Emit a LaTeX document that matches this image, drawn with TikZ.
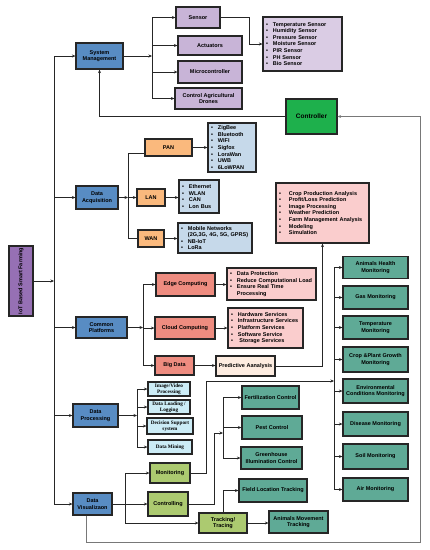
\documentclass[tikz,border=0pt]{standalone}
\usepackage{fontspec}
\setmainfont{Liberation Sans}
\newfontfamily\tnrfont{Liberation Serif}
\usetikzlibrary{arrows.meta, positioning, calc}
\definecolor{mgmtblue}{RGB}{88,140,195}
\definecolor{rootpurple}{RGB}{150,112,180}
\definecolor{devlilac}{RGB}{200,180,215}
\definecolor{senslilac}{RGB}{218,204,228}
\definecolor{ctrlgreen}{RGB}{30,176,76}
\definecolor{netorange}{RGB}{250,185,125}
\definecolor{netblue}{RGB}{198,217,234}
\definecolor{anapink}{RGB}{250,205,205}
\definecolor{cloudsalmon}{RGB}{238,140,128}
\definecolor{predpeach}{RGB}{253,236,224}
\definecolor{proccyan}{RGB}{204,236,246}
\definecolor{monteal}{RGB}{95,170,150}
\definecolor{vislime}{RGB}{172,202,112}
\definecolor{feedgray}{RGB}{120,120,120}
\newcommand{\bul}{\textbullet\hspace{5pt}}
\newcommand{\nobul}{\phantom{\textbullet}\hspace{5pt}}
\tikzset{
    box/.style={
        rectangle, draw=black!85, line width=1.2pt, inner sep=1pt,
        font=\fontsize{5.5}{6.6}\selectfont\bfseries, align=center
    },
    bluebox/.style={box, fill=mgmtblue},
    rootbox/.style={box, fill=rootpurple},
    lilacbox/.style={box, fill=devlilac},
    ctrlbox/.style={box, fill=ctrlgreen, font=\fontsize{6.5}{7.5}\selectfont\bfseries},
    orangebox/.style={box, fill=netorange},
    salmonbox/.style={box, fill=cloudsalmon},
    peachbox/.style={box, fill=predpeach},
    cyanbox/.style={box, fill=proccyan, font=\fontsize{5.2}{6.2}\selectfont\bfseries\tnrfont},
    tealbox/.style={box, fill=monteal},
    limebox/.style={box, fill=vislime},
    listbox/.style={box, align=left, inner xsep=3pt},
    line/.style={line width=0.8pt, black!85},
    arrow/.style={line, -{Stealth[length=3.5pt, width=3pt]}},
    grayarrow/.style={line width=0.6pt, feedgray, -{Stealth[length=3.5pt, width=3pt]}},
}
\begin{document}
\begin{tikzpicture}[x=1pt, y=-1pt]
    \useasboundingbox (0,0) rectangle (430,550);

    % root and main branches
    \node[rootbox, minimum width=24pt, minimum height=70pt] (iot) at (21,281) {\rotatebox{90}{IoT Based Smart Farming}};
    \node[bluebox, minimum width=47pt, minimum height=26pt] (sysman) at (99.5,56) {System\\Management};
    \node[bluebox, minimum width=42pt, minimum height=23pt] (dacq) at (97,197.5) {Data\\Acquisition};
    \node[bluebox, minimum width=51pt, minimum height=21pt] (cplat) at (101.5,327.5) {Common\\Platforms};
    \node[bluebox, minimum width=45pt, minimum height=23pt] (dproc) at (95.5,415.5) {Data\\Processing};
    \node[bluebox, minimum width=39pt, minimum height=22pt] (dviz) at (92.5,504) {Data\\Visualizaon};

    % system management
    \node[lilacbox, minimum width=44pt, minimum height=21pt] (sensor) at (198,17.5) {Sensor};
    \node[lilacbox, minimum width=64pt, minimum height=19pt] (actu) at (210,45.5) {Actuators};
    \node[lilacbox, minimum width=64pt, minimum height=22pt] (micro) at (210,72) {Microcontroller};
    \node[lilacbox, minimum width=67pt, minimum height=21pt] (drones) at (208.5,98.5) {Control Agricultural\\Drones};
    \node[listbox, fill=senslilac, text width=73pt, minimum height=54pt] (slist) at (302.5,44) {\bul Temperature Sensor\\\bul Humidity Sensor\\\bul Pressure Sensor\\\bul Moisture Sensor\\\bul PIR Sensor\\\bul PH Sensor\\\bul Bio Sensor};
    \node[ctrlbox, minimum width=51pt, minimum height=35pt] (ctrl) at (311.5,116.5) {Controller};

    % data acquisition
    \node[orangebox, minimum width=47pt, minimum height=17pt] (pan) at (168.5,147.5) {PAN};
    \node[orangebox, minimum width=28pt, minimum height=17pt] (lan) at (151,197.5) {LAN};
    \node[orangebox, minimum width=26pt, minimum height=17pt] (wan) at (151,238.5) {WAN};
    \node[listbox, fill=netblue, text width=42pt, minimum height=49pt] (panlist) at (232,147.5) {\bul ZigBee\\\bul Bluetooth\\\bul WIFI\\\bul Sigfox\\\bul LoraWan\\\bul UWB\\\bul 6LoWPAN};
    \node[listbox, fill=netblue, text width=34pt, minimum height=33pt] (lanlist) at (199,196.5) {\bul Ethernet\\\bul WLAN\\\bul CAN\\\bul Lon Bus};
    \node[listbox, fill=netblue, text width=68pt, minimum height=30pt] (wanlist) at (215,238) {\bul Mobile Networks\\\nobul (2G,3G, 4G, 5G, GPRS)\\\bul NB-IoT\\\bul LoRa};

    % common platforms
    \node[salmonbox, minimum width=59pt, minimum height=23pt] (edge) at (185.5,284.5) {Edge Computing};
    \node[salmonbox, minimum width=60pt, minimum height=22pt] (cloud) at (185,328) {Cloud Computing};
    \node[salmonbox, minimum width=39pt, minimum height=19pt] (bigdata) at (174.5,365.5) {Big Data};
    \node[listbox, fill=anapink, text width=83pt, minimum height=32pt] (edgelist) at (271.5,284) {\bul Data Protection\\\bul Reduce Computational Load\\\bul Ensure Real Time\\\nobul Processing};
    \node[listbox, fill=anapink, text width=69pt, minimum height=40pt] (cloudlist) at (265.5,328) {\bul Hardware Services\\\bul Infrastructure Services\\\bul Platform Services\\\bul Software Service\\\bul\hspace{1.5pt}Storage Services};
    \node[peachbox, minimum width=59pt, minimum height=20pt] (pred) at (245.5,366) {Predictive Aanalysis};
    \node[listbox, fill=anapink, text width=87pt, minimum height=60pt] (analysis) at (322.5,213) {\bul\hspace{3pt}Crop Production Analysis\\\bul\hspace{3pt}Profit/Loss Prediction\\\bul\hspace{3pt}Image Processing\\\bul\hspace{3pt}Weather Prediction\\\bul\hspace{3pt}Farm Management Analysis\\\bul\hspace{3pt}Modeling\\\bul\hspace{3pt}Simulation};

    % monitoring column
    \node[tealbox, minimum width=65pt, minimum height=22pt] (animh) at (375.5,267.5) {Animals Health\\Monitoring};
    \node[tealbox, minimum width=65pt, minimum height=23pt] (gas) at (375.5,297.5) {Gas Monitoring};
    \node[tealbox, minimum width=65pt, minimum height=23pt] (temp) at (375.5,327.5) {Temperature\\Monitoring};
    \node[tealbox, minimum width=65pt, minimum height=25pt] (crop) at (375.5,359.5) {Crop \&Plant Growth\\Monitoring};
    \node[tealbox, minimum width=65pt, minimum height=24pt] (env) at (375.5,391) {Environmental\\Conditions Monitoring};
    \node[tealbox, minimum width=65pt, minimum height=24pt] (disease) at (375.5,424) {Disease Monitoring};
    \node[tealbox, minimum width=65pt, minimum height=25pt] (soil) at (375.5,456.5) {Soil Monitoring};
    \node[tealbox, minimum width=65pt, minimum height=23pt] (air) at (375.5,489.5) {Air Monitoring};

    % data processing
    \node[cyanbox, minimum width=42pt, minimum height=14pt] (imgv) at (169,389) {Image/Video\\Processing};
    \node[cyanbox, minimum width=42pt, minimum height=14pt] (dload) at (169,407) {Data Loading /\\Logging};
    \node[cyanbox, minimum width=46pt, minimum height=16pt] (dsupp) at (170,426) {Decision Support\\system};
    \node[cyanbox, minimum width=44pt, minimum height=14pt] (dmin) at (170,447) {Data Mining};

    % data visualization
    \node[limebox, minimum width=40pt, minimum height=20pt] (mon) at (170,473) {Monitoring};
    \node[limebox, minimum width=40pt, minimum height=24pt] (ctrlg) at (168,504) {Controlling};
    \node[limebox, minimum width=48pt, minimum height=20pt] (track) at (223,523) {Tracking/\\Tracing};
    \node[tealbox, minimum width=57pt, minimum height=23pt] (fert) at (270.5,397.5) {Fertilization Control};
    \node[tealbox, minimum width=60pt, minimum height=23pt] (pest) at (272,427.5) {Pest Control};
    \node[tealbox, minimum width=61pt, minimum height=22pt] (green) at (271.5,458) {Greenhouse\\Illumination Control};
    \node[tealbox, minimum width=68pt, minimum height=23pt] (field) at (273,490.5) {Field Location Tracking};
    \node[tealbox, minimum width=59pt, minimum height=22pt] (amove) at (298.5,522) {Animals Movement\\Tracking};

    % bus coordinates
    \coordinate (trunk) at (54,0);
    \coordinate (sbus) at (152,0);
    \coordinate (abus) at (128,0);
    \coordinate (cbus) at (143,0);
    \coordinate (mbus) at (334,0);
    \coordinate (pbus) at (137,0);
    \coordinate (vbus) at (125,0);
    \coordinate (kbus) at (223,0);
    \coordinate (minlet) at (334,381);
    \coordinate (mturn) at (206,381);
    \coordinate (kin) at (223,433);
    \coordinate (kturn) at (214,433);
    \coordinate (feedc) at (420,542);

    % main trunk
    \draw[line] (trunk |- sysman.west) -- (trunk |- dviz.west);
    \draw[arrow] (iot.east) -- (iot.east -| trunk);
    \foreach \n in {sysman, dacq, cplat, dproc, dviz}
        \draw[arrow] (trunk |- \n.west) -- (\n.west);

    % system management links
    \draw[arrow] (sysman.east) -- (sysman.east -| sbus);
    \draw[line] (sbus |- sensor.west) -- (sbus |- drones.west);
    \foreach \n in {sensor, actu, micro, drones}
        \draw[arrow] (sbus |- \n.west) -- (\n.west);
    \draw[arrow] (sensor.east) -- ++(29,0) |- (slist.west);
    \draw[arrow] (ctrl.west) -| (sysman.south);

    % data acquisition links
    \draw[arrow] (dacq.east) -- (dacq.east -| abus);
    \draw[line] ([yshift=-5.5pt]pan.west) -| (abus |- wan.west) -- (wan.west);
    \draw[arrow] (abus |- lan.west) -- (lan.west);
    \draw[arrow] (pan.east) -- (panlist.west);
    \draw[arrow] (lan.east) -- (lan.east -| lanlist.west);
    \draw[arrow] (wan.east) -- (wan.east -| wanlist.west);

    % common platforms links
    \draw[arrow] (cplat.east) -- (cplat.east -| cbus);
    \draw[line] (cbus |- edge.west) -- (cbus |- bigdata.west);
    \foreach \n in {edge, cloud, bigdata}
        \draw[arrow] (cbus |- \n.west) -- (\n.west);
    \draw[arrow] (edge.east) -- (edge.east -| edgelist.west);
    \draw[arrow] (cloud.east) -- (cloud.east -| cloudlist.west);
    \draw[arrow] (bigdata.east) -- (bigdata.east -| pred.west);
    \draw[arrow] (pred.east) -| (analysis.south);

    % monitoring column links
    \draw[line] (mbus |- animh.west) -- (mbus |- air.west);
    \foreach \n in {animh, gas, temp, crop, env, disease, soil, air}
        \draw[arrow] (mbus |- \n.west) -- (\n.west);

    % data processing links
    \draw[arrow] (dproc.east) -- (dproc.east -| pbus);
    \draw[line] (pbus |- imgv.west) -- (pbus |- dmin.west);
    \foreach \n in {imgv, dload, dsupp, dmin}
        \draw[arrow] (pbus |- \n.west) -- (\n.west);

    % data visualization links
    \draw[line] (vbus |- mon.west) -- (vbus |- track.west);
    \draw[arrow] (dviz.east) -- (ctrlg.west);
    \draw[arrow] (vbus |- mon.west) -- (mon.west);
    \draw[arrow] (vbus |- track.west) -- (track.west);
    \draw[arrow] (mon.east) -| (mturn) -- (minlet);
    \draw[arrow] (ctrlg.east) -| (kturn) -- (kin);
    \draw[line] (kbus |- fert.west) -- (kbus |- green.west);
    \foreach \n in {fert, pest, green}
        \draw[arrow] (kbus |- \n.west) -- (\n.west);
    \draw[arrow] (track.north) |- (field.west);
    \draw[arrow] (track.east) -- (track.east -| amove.west);

    % feedback to controller
    \draw[grayarrow] ([xshift=-6.5pt]dviz.south) |- (feedc) |- (ctrl.east);
\end{tikzpicture}
\end{document}
